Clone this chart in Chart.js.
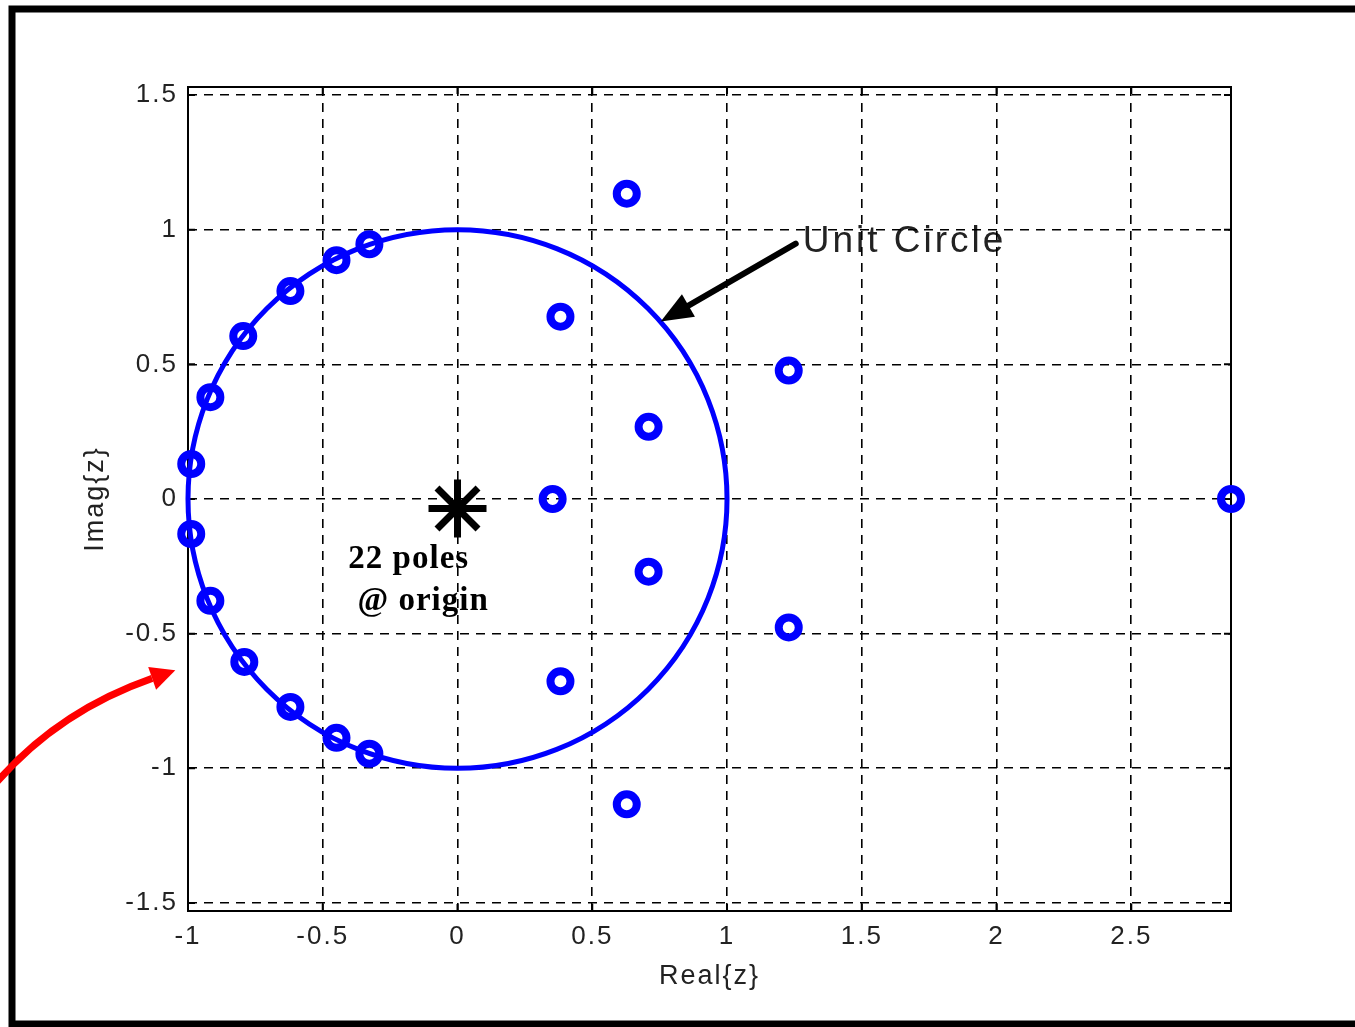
<!DOCTYPE html>
<html lang="en">
<head>
<meta charset="UTF-8">
<title>Pole-zero plot</title>
<style>
  html, body { margin: 0; padding: 0; background: #fff; overflow: hidden; }
  #wrap { position: relative; width: 1355px; height: 1027px; }
</style>
<script src="https://cdn.jsdelivr.net/npm/chart.js"></script>
</head>
<body>
<div id="wrap"><canvas id="pz"></canvas></div>
<script>
// zeros
const zeroRe = [-0.327, -0.449, -0.620, -0.795, -0.917, -0.988, -0.988, -0.917, -0.791, -0.620, -0.449, -0.327,
                0.628, 0.382, 1.229, 0.709, 0.353, 2.870, 0.709, 1.229, 0.382, 0.628];
const zeroIm = [0.946, 0.887, 0.772, 0.605, 0.378, 0.130, -0.130, -0.378, -0.605, -0.772, -0.887, -0.946,
                1.134, 0.677, 0.477, 0.268, 0.000, 0.000, -0.270, -0.477, -0.677, -1.134];
// the 22 poles, all drawn as one star near the origin
const poleRe = [0];
const poleIm = [-0.035];
const unitRadius = 1;

const xTicks = [-1, -0.5, 0, 0.5, 1, 1.5, 2, 2.5];
const yTicks = [-1.5, -1, -0.5, 0, 0.5, 1, 1.5];
const xMin = -1, xMax = 2.87, yMin = -1.53, yMax = 1.53;

// annotation anchors, in data units
const notes = {
  unitText: { x: 1.281, y: 0.955, text: 'Unit Circle' },
  polesText1: { x: -0.405, y: -0.225, text: '22 poles' },
  polesText2: { x: -0.371, y: -0.380, text: '@ origin' },
  blackArrow: { from: [1.255, 0.948], tip: [0.754, 0.659] },
  redArrow: { from: [-1.716, -1.059], ctrl: [-1.485, -0.789], base: [-1.133, -0.666], tip: [-1.047, -0.636] }
};

const sans = '"Liberation Sans", Arial, sans-serif';
const serif = '"Liberation Serif", "Times New Roman", serif';

function arrowHead(ctx, bx, by, tx, ty, half) {
  const a = Math.atan2(ty - by, tx - bx);
  ctx.beginPath();
  ctx.moveTo(tx, ty);
  ctx.lineTo(bx + half * Math.sin(a), by - half * Math.cos(a));
  ctx.lineTo(bx - half * Math.sin(a), by + half * Math.cos(a));
  ctx.closePath();
  ctx.fill();
}

const decor = {
  id: 'decor',
  beforeDraw(chart) {
    const { ctx, scales: { x, y } } = chart;
    ctx.save();
    // outer frame of the figure
    ctx.strokeStyle = '#000';
    ctx.lineWidth = 7;
    ctx.strokeRect(12, 9, 1400, 1015);
    // labels sit under the grid
    ctx.fillStyle = '#222';
    ctx.textBaseline = 'middle';
    ctx.letterSpacing = '3px';
    ctx.font = '37px ' + sans;
    let n = notes.unitText;
    ctx.fillText(n.text, x.getPixelForValue(n.x), y.getPixelForValue(n.y));
    ctx.letterSpacing = '1px';
    ctx.fillStyle = '#000';
    ctx.font = 'bold 33px ' + serif;
    n = notes.polesText1;
    ctx.fillText(n.text, x.getPixelForValue(n.x), y.getPixelForValue(n.y));
    n = notes.polesText2;
    ctx.fillText(n.text, x.getPixelForValue(n.x), y.getPixelForValue(n.y));
    ctx.restore();
    ctx.letterSpacing = '2px';
  },
  beforeDatasetsDraw(chart) {
    const { ctx, chartArea: a, scales: { x, y } } = chart;
    ctx.save();
    ctx.letterSpacing = '0px';
    ctx.strokeStyle = '#000';
    ctx.lineWidth = 2;
    ctx.strokeRect(a.left, a.top, a.right - a.left, a.bottom - a.top);
    ctx.beginPath();
    xTicks.forEach(v => {
      const px = x.getPixelForValue(v);
      ctx.moveTo(px, a.bottom); ctx.lineTo(px, a.bottom - 7);
      ctx.moveTo(px, a.top); ctx.lineTo(px, a.top + 7);
    });
    yTicks.forEach(v => {
      const py = y.getPixelForValue(v);
      ctx.moveTo(a.left, py); ctx.lineTo(a.left + 7, py);
      ctx.moveTo(a.right, py); ctx.lineTo(a.right - 7, py);
    });
    ctx.stroke();
    // unit circle
    const cx = x.getPixelForValue(0), cy = y.getPixelForValue(0);
    const rx = x.getPixelForValue(unitRadius) - cx, ry = cy - y.getPixelForValue(unitRadius);
    ctx.strokeStyle = '#0000ff';
    ctx.lineWidth = 5;
    ctx.beginPath();
    ctx.ellipse(cx, cy, rx, ry, 0, 0, 2 * Math.PI);
    ctx.stroke();
    ctx.restore();
  },
  afterDatasetsDraw(chart) {
    const { ctx, scales: { x, y } } = chart;
    const b = notes.blackArrow;
    const fx = x.getPixelForValue(b.from[0]), fy = y.getPixelForValue(b.from[1]);
    const tx = x.getPixelForValue(b.tip[0]), ty = y.getPixelForValue(b.tip[1]);
    const a = Math.atan2(ty - fy, tx - fx);
    const bx = tx - 32 * Math.cos(a), by = ty - 32 * Math.sin(a);
    ctx.save();
    ctx.strokeStyle = '#000';
    ctx.fillStyle = '#000';
    ctx.lineWidth = 6;
    ctx.lineCap = 'round';
    ctx.beginPath();
    ctx.moveTo(fx, fy);
    ctx.lineTo(bx, by);
    ctx.stroke();
    arrowHead(ctx, bx, by, tx, ty, 13);
    ctx.restore();
  },
  afterDraw(chart) {
    const { ctx, scales: { x, y } } = chart;
    const r = notes.redArrow;
    const p = k => [x.getPixelForValue(r[k][0]), y.getPixelForValue(r[k][1])];
    const f = p('from'), c = p('ctrl'), b = p('base'), t = p('tip');
    ctx.save();
    ctx.strokeStyle = '#ff0000';
    ctx.fillStyle = '#ff0000';
    ctx.lineWidth = 7;
    ctx.beginPath();
    ctx.moveTo(f[0], f[1]);
    ctx.quadraticCurveTo(c[0], c[1], b[0], b[1]);
    ctx.stroke();
    arrowHead(ctx, b[0], b[1], t[0], t[1], 12);
    ctx.restore();
  }
};

const tickFont = { family: sans, size: 26 };
const titleFont = { family: sans, size: 27 };

new Chart(document.getElementById('pz'), {
  type: 'scatter',
  data: {
    datasets: [
      {
        label: 'zeros',
        data: zeroRe.map((re, i) => ({ x: re, y: zeroIm[i] })),
        clip: false,
        pointStyle: 'circle',
        pointRadius: 10,
        pointBorderWidth: 8,
        pointBorderColor: '#0000ff',
        pointBackgroundColor: 'rgba(0,0,0,0)'
      },
      {
        label: 'poles',
        data: poleRe.map((re, i) => ({ x: re, y: poleIm[i] })),
        clip: false,
        pointStyle: 'star',
        pointRadius: 29,
        pointBorderWidth: 7,
        pointBorderColor: '#000',
        pointBackgroundColor: '#000'
      }
    ]
  },
  options: {
    responsive: true,
    maintainAspectRatio: false,
    animation: false,
    layout: { padding: { top: 87, right: 124, left: 0, bottom: 0 } },
    plugins: { legend: { display: false }, tooltip: { enabled: false } },
    scales: {
      x: {
        type: 'linear',
        min: xMin, max: xMax,
        afterBuildTicks: s => { s.ticks = xTicks.map(v => ({ value: v })); },
        afterFit: s => { s.height = 116; },
        ticks: { callback: v => String(v), font: tickFont, color: '#222', padding: 10, maxRotation: 0, autoSkip: false },
        grid: { color: '#000', lineWidth: 1.6, drawTicks: false },
        border: { display: false, dash: [9, 7] },
        title: { display: true, text: 'Real{z}', font: titleFont, color: '#222', padding: { top: 0, bottom: 34 } }
      },
      y: {
        type: 'linear',
        min: yMin, max: yMax,
        afterBuildTicks: s => { s.ticks = yTicks.map(v => ({ value: v })); },
        afterFit: s => { s.width = 188; },
        ticks: { callback: v => String(v), font: tickFont, color: '#222', padding: 10, autoSkip: false },
        grid: { color: '#000', lineWidth: 1.6, drawTicks: false },
        border: { display: false, dash: [9, 7] },
        title: { display: true, text: 'Imag{z}', font: titleFont, color: '#222', padding: { top: 79, bottom: 0 } }
      }
    }
  },
  plugins: [decor]
});
</script>
</body>
</html>
